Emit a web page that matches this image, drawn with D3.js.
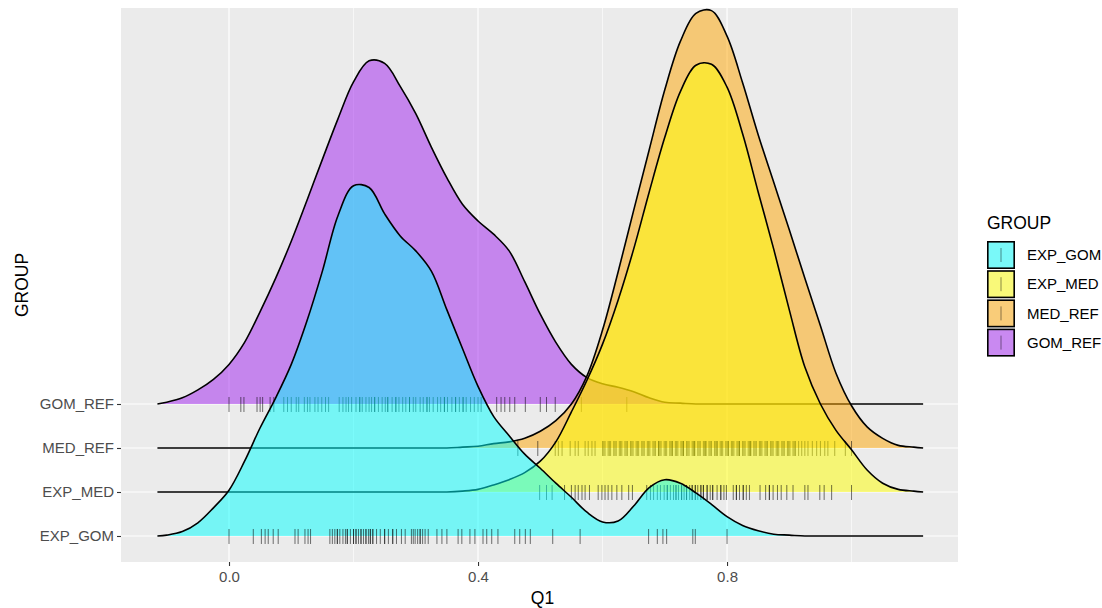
<!DOCTYPE html>
<html>
<head>
<meta charset="utf-8">
<script src="https://cdn.jsdelivr.net/npm/d3@7"></script>
<style>
  body { margin: 0; background: #fff; }
  text { font-family: "Liberation Sans", Arial, sans-serif; }
</style>
</head>
<body>
<div id="chart"></div>
<script>
// groups from bottom row to top row
const groups = ["EXP_GOM", "EXP_MED", "MED_REF", "GOM_REF"];
const groupColors = ["#00FFFF", "#FFFF00", "#FFA500", "#A020F0"];

// Q1 positions where the densities were read
const q1Grid = [-0.115, -0.1, -0.075, -0.05, -0.025, 0, 0.025, 0.05, 0.075, 0.1,
  0.125, 0.15, 0.175, 0.2, 0.225, 0.25, 0.275, 0.3, 0.325, 0.35,
  0.375, 0.4, 0.425, 0.45, 0.475, 0.5, 0.525, 0.55, 0.575, 0.6,
  0.625, 0.65, 0.675, 0.7, 0.725, 0.75, 0.775, 0.8, 0.825, 0.85,
  0.875, 0.9, 0.925, 0.95, 0.975, 1.0, 1.025, 1.05, 1.075, 1.1, 1.115];

const densExpGom = [0, 0.01, 0.05, 0.15, 0.32, 0.52, 0.85, 1.23, 1.57, 1.95,
  2.44, 3.01, 3.64, 3.98, 3.96, 3.66, 3.41, 3.24, 3.01, 2.57,
  2.13, 1.70, 1.36, 1.14, 0.93, 0.77, 0.60, 0.44, 0.27, 0.16,
  0.17, 0.34, 0.55, 0.64, 0.60, 0.49, 0.36, 0.22, 0.12, 0.06,
  0.02, 0.01, 0, 0, 0, 0, 0, 0, 0, 0, 0];
const densExpMed = [0, 0, 0, 0, 0, 0, 0, 0, 0, 0,
  0, 0, 0, 0, 0, 0, 0, 0, 0, 0,
  0.01, 0.03, 0.08, 0.14, 0.22, 0.35, 0.57, 0.91, 1.27, 1.68,
  2.18, 2.76, 3.41, 4.03, 4.55, 4.85, 4.86, 4.60, 4.07, 3.41,
  2.76, 2.07, 1.42, 1.00, 0.70, 0.48, 0.25, 0.10, 0.03, 0.01, 0];
const densMedRef = [0, 0, 0, 0, 0, 0, 0, 0, 0, 0,
  0, 0, 0, 0, 0, 0, 0, 0, 0, 0,
  0.01, 0.02, 0.05, 0.07, 0.11, 0.19, 0.31, 0.50, 0.82, 1.34,
  2.00, 2.70, 3.39, 4.07, 4.62, 4.94, 4.97, 4.68, 4.15, 3.56,
  3.02, 2.48, 1.93, 1.39, 0.85, 0.48, 0.24, 0.11, 0.03, 0.01, 0];
const densGomRef = [0, 0.02, 0.07, 0.16, 0.28, 0.45, 0.70, 1.05, 1.43, 1.85,
  2.31, 2.78, 3.24, 3.66, 3.90, 3.87, 3.61, 3.30, 2.92, 2.57,
  2.27, 2.08, 1.93, 1.74, 1.39, 1.02, 0.70, 0.45, 0.30, 0.23,
  0.19, 0.14, 0.07, 0.02, 0.01, 0, 0, 0, 0, 0,
  0, 0, 0, 0, 0, 0, 0, 0, 0, 0, 0];

// individual Q1 answers drawn as rug ticks
const rugExpGom = [0.0, 0.039, 0.052, 0.058, 0.063, 0.071, 0.079, 0.106, 0.111, 0.122,
  0.127, 0.131, 0.162, 0.166, 0.17, 0.174, 0.178, 0.183, 0.187, 0.19, 0.195, 0.2,
  0.204, 0.208, 0.212, 0.216, 0.22, 0.224, 0.227, 0.231, 0.237, 0.243, 0.25, 0.256,
  0.263, 0.269, 0.277, 0.283, 0.293, 0.296, 0.299, 0.303, 0.307, 0.311, 0.315, 0.32,
  0.334, 0.342, 0.35, 0.368, 0.374, 0.387, 0.395, 0.408, 0.414, 0.422, 0.432, 0.459,
  0.467, 0.476, 0.484, 0.52, 0.564, 0.674, 0.688, 0.697, 0.703, 0.745, 0.749, 0.8,
  0.19, 0.2, 0.212, 0.22, 0.231, 0.25, 0.307, 0.174, 0.204, 0.227, 0.263];
const rugExpMed = [0.499, 0.51, 0.519, 0.539, 0.55, 0.556, 0.561, 0.567, 0.572, 0.579,
  0.593, 0.599, 0.604, 0.609, 0.615, 0.623, 0.631, 0.642, 0.648, 0.671, 0.677, 0.682,
  0.688, 0.693, 0.699, 0.704, 0.709, 0.714, 0.718, 0.722, 0.727, 0.731, 0.735, 0.74,
  0.744, 0.749, 0.753, 0.758, 0.762, 0.768, 0.773, 0.777, 0.784, 0.79, 0.795, 0.799,
  0.81, 0.815, 0.82, 0.826, 0.831, 0.836, 0.853, 0.862, 0.868, 0.874, 0.881, 0.887,
  0.896, 0.906, 0.925, 0.93, 0.949, 0.956, 0.968, 1.0,
  0.718, 0.735, 0.749, 0.762, 0.777, 0.79, 0.704, 0.727, 0.744, 0.758, 0.768, 0.815,
  0.826, 0.868];
const rugMedRef = [0.464, 0.496, 0.524, 0.529, 0.535, 0.548, 0.556, 0.561, 0.572, 0.577,
  0.583, 0.588, 0.6, 0.604, 0.609, 0.613, 0.618, 0.622, 0.627, 0.631, 0.636, 0.64,
  0.645, 0.649, 0.654, 0.658, 0.663, 0.667, 0.672, 0.676, 0.681, 0.685, 0.69, 0.694,
  0.699, 0.703, 0.708, 0.712, 0.717, 0.721, 0.726, 0.73, 0.735, 0.739, 0.744, 0.748,
  0.753, 0.757, 0.762, 0.766, 0.771, 0.775, 0.78, 0.784, 0.789, 0.793, 0.798, 0.802,
  0.807, 0.811, 0.816, 0.82, 0.825, 0.829, 0.834, 0.838, 0.843, 0.847, 0.852, 0.856,
  0.861, 0.865, 0.87, 0.874, 0.879, 0.883, 0.888, 0.892, 0.897, 0.901, 0.906, 0.91,
  0.915, 0.92, 0.925, 0.93, 0.937, 0.944, 0.95, 0.957, 0.962, 0.973, 0.99, 1.0,
  0.602, 0.611, 0.62, 0.629, 0.638, 0.647, 0.656, 0.665, 0.674, 0.683, 0.692, 0.701,
  0.71, 0.719, 0.728, 0.737, 0.746, 0.755, 0.764, 0.773, 0.782, 0.791, 0.8, 0.809,
  0.818, 0.827, 0.836, 0.845, 0.854, 0.863, 0.872, 0.881, 0.89, 0.899, 0.908,
  0.69, 0.712, 0.73, 0.748, 0.766, 0.784, 0.802, 0.82, 0.838];
const rugGomRef = [0.0, 0.019, 0.024, 0.045, 0.05, 0.054, 0.066, 0.072, 0.088, 0.094,
  0.1, 0.108, 0.112, 0.121, 0.126, 0.13, 0.138, 0.143, 0.149, 0.155, 0.16, 0.177,
  0.183, 0.188, 0.192, 0.197, 0.204, 0.21, 0.214, 0.22, 0.225, 0.229, 0.234, 0.24,
  0.246, 0.251, 0.255, 0.262, 0.268, 0.273, 0.279, 0.284, 0.29, 0.296, 0.3, 0.307,
  0.312, 0.318, 0.322, 0.328, 0.335, 0.34, 0.346, 0.351, 0.358, 0.364, 0.37, 0.376,
  0.381, 0.388, 0.394, 0.4, 0.405, 0.43, 0.437, 0.443, 0.451, 0.459, 0.476, 0.5,
  0.51, 0.524, 0.566, 0.639,
  0.21, 0.234, 0.255, 0.268, 0.29, 0.318, 0.346, 0.364, 0.376];

const densities = [densExpGom, densExpMed, densMedRef, densGomRef];
const rugs = [rugExpGom, rugExpMed, rugMedRef, rugGomRef];

const xMajor = [0, 0.4, 0.8];
const xMinor = [0.2, 0.6, 1.0];
const ridgeScale = 2;   // one density unit = two rows

const W = 1102, H = 608;
const panel = { left: 121, right: 958, top: 8, bottom: 562 };

const svg = d3.select("#chart").append("svg")
  .attr("width", W).attr("height", H);

const x = d3.scaleLinear().domain([-0.1735, 1.171]).range([panel.left, panel.right]);
const y = d3.scaleLinear().domain([0.409, 13]).range([panel.bottom, panel.top]);

// panel background + grid
svg.append("rect")
  .attr("x", panel.left).attr("y", panel.top)
  .attr("width", panel.right - panel.left).attr("height", panel.bottom - panel.top)
  .attr("fill", "#EBEBEB");

const grid = svg.append("g");
grid.selectAll(".minor").data(xMinor).join("line")
  .attr("x1", d => x(d)).attr("x2", d => x(d))
  .attr("y1", panel.top).attr("y2", panel.bottom)
  .attr("stroke", "#fff").attr("stroke-width", 0.6);
grid.selectAll(".major").data(xMajor).join("line")
  .attr("x1", d => x(d)).attr("x2", d => x(d))
  .attr("y1", panel.top).attr("y2", panel.bottom)
  .attr("stroke", "#fff").attr("stroke-width", 1.2);
grid.selectAll(".hmajor").data(groups).join("line")
  .attr("x1", panel.left).attr("x2", panel.right)
  .attr("y1", (d, i) => y(i + 1)).attr("y2", (d, i) => y(i + 1))
  .attr("stroke", "#fff").attr("stroke-width", 1.2);

// ridges, top row first so lower rows sit in front
const curve = d3.curveCatmullRom.alpha(0.5);
const ridges = svg.append("g");
for (let i = groups.length - 1; i >= 0; i--) {
  const pos = i + 1;
  const pts = q1Grid.map((q, k) => ({ q: q, d: densities[i][k] }));
  const area = d3.area()
    .x(d => x(d.q))
    .y0(y(pos))
    .y1(d => y(pos + ridgeScale * d.d))
    .curve(curve);
  const line = d3.line()
    .x(d => x(d.q))
    .y(d => y(pos + ridgeScale * d.d))
    .curve(curve);

  const g = ridges.append("g");
  g.append("path").datum(pts)
    .attr("d", area)
    .attr("fill", groupColors[i]).attr("fill-opacity", 0.5);
  g.selectAll("line.rug").data(rugs[i]).join("line")
    .attr("x1", d => x(d)).attr("x2", d => x(d))
    .attr("y1", y(pos) - 7).attr("y2", y(pos) + 8)
    .attr("stroke", "#000").attr("stroke-opacity", 0.55).attr("stroke-width", 1);
  g.append("path").datum(pts)
    .attr("d", line)
    .attr("fill", "none").attr("stroke", "#000").attr("stroke-width", 1.6);
}

// axes
const xAxis = svg.append("g")
  .attr("transform", `translate(0,${panel.bottom})`)
  .call(d3.axisBottom(x).tickValues(xMajor).tickFormat(d3.format(".1f")).tickSize(4).tickPadding(5));
const yAxis = svg.append("g")
  .attr("transform", `translate(${panel.left},0)`)
  .call(d3.axisLeft(y).tickValues([1, 2, 3, 4]).tickFormat(d => groups[d - 1]).tickSize(4).tickPadding(3));
[xAxis, yAxis].forEach(a => {
  a.select(".domain").remove();
  a.selectAll(".tick line").attr("stroke", "#333").attr("stroke-width", 1.1);
  a.selectAll(".tick text").attr("fill", "#4D4D4D").style("font-size", "15px")
    .style("font-family", '"Liberation Sans", Arial, sans-serif');
});

svg.append("text")
  .attr("x", (panel.left + panel.right) / 2 + 3).attr("y", 604)
  .attr("text-anchor", "middle").style("font-size", "17.5px")
  .text("Q1");
svg.append("text")
  .attr("transform", `translate(28,${(panel.top + panel.bottom) / 2}) rotate(-90)`)
  .attr("text-anchor", "middle").style("font-size", "17.5px")
  .text("GROUP");

// legend
const legend = svg.append("g").attr("transform", "translate(987,0)");
legend.append("text").attr("x", 0).attr("y", 229)
  .style("font-size", "17.5px").text("GROUP");
const keys = legend.selectAll("g.key").data(groups).join("g")
  .attr("transform", (d, i) => `translate(0,${241 + i * 29.2})`);
keys.append("rect").attr("x", 0).attr("y", 0).attr("width", 28).attr("height", 28)
  .attr("fill", "#F2F2F2");
keys.append("rect").attr("x", 0.8).attr("y", 0.8).attr("width", 26.4).attr("height", 26.4)
  .attr("fill", (d, i) => groupColors[i]).attr("fill-opacity", 0.5)
  .attr("stroke", "#000").attr("stroke-width", 1.6);
keys.append("line").attr("x1", 14).attr("x2", 14).attr("y1", 7).attr("y2", 21)
  .attr("stroke", "#000").attr("stroke-opacity", 0.45);
keys.append("text").attr("x", 40).attr("y", 14).attr("dy", "0.35em")
  .style("font-size", "15px").text(d => d);
</script>
</body>
</html>
